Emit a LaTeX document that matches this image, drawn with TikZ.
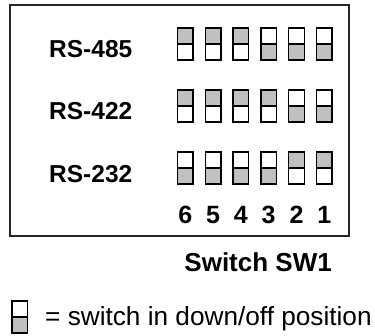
\documentclass[tikz,border=0pt]{standalone}
\usepackage{fontspec}
\setmainfont{Liberation Sans}
\usetikzlibrary{positioning}

\definecolor{swgray}{RGB}{192,192,192}
\tikzset{
  frame/.style={draw=black!85, line width=1.5pt},
  swline/.style={draw=black, line width=1.4pt},
  modelbl/.style={font=\fontsize{24.5}{28}\selectfont\bfseries, inner sep=0pt, anchor=base west},
  numlbl/.style={font=\fontsize{25}{28}\selectfont\bfseries, inner sep=0pt, anchor=base},
  titlelbl/.style={font=\fontsize{26}{30}\selectfont\bfseries, inner sep=0pt, anchor=base east},
  legendtxt/.style={font=\fontsize{26.2}{30}\selectfont, inner sep=0pt, anchor=base west}
}
% one dip switch: x left, y top, 1 = up (top half grey), 0 = down
\newcommand{\dipswitch}[3]{%
  \ifnum#3=1
    \fill[swgray] (#1,#2) rectangle ++(15.5,16);
  \else
    \fill[swgray] (#1,#2+16) rectangle ++(15.5,16);
  \fi
  \draw[swline] (#1,#2) rectangle ++(15.5,32);
  \draw[swline] (#1,#2+16) -- ++(15.5,0);
}

\begin{document}
\begin{tikzpicture}[x=1pt,y=-1pt]
  \useasboundingbox (0,0) rectangle (375,335);
  \draw[frame] (10,5) rectangle (349,236);

  % mode labels
  \node[modelbl] (rs485) at (49,57) {RS-485};
  \node[modelbl] (rs422) at (49,119) {RS-422};
  \node[modelbl] (rs232) at (49,182) {RS-232};

  % switch rows, switch 6 on the left
  \foreach \i/\s in {0/1,1/1,2/1,3/0,4/0,5/0}
    \dipswitch{177.5+27.8*\i}{28}{\s};
  \foreach \i/\s in {0/1,1/1,2/1,3/1,4/0,5/0}
    \dipswitch{177.5+27.8*\i}{90}{\s};
  \foreach \i/\s in {0/0,1/0,2/0,3/0,4/1,5/1}
    \dipswitch{177.5+27.8*\i}{152}{\s};

  % switch numbers
  \foreach \i/\n in {0/6,1/5,2/4,3/3,4/2,5/1}
    \node[numlbl] (num\n) at (185.25+27.8*\i,223) {\n};

  \node[titlelbl] (swname) at (332,271) {Switch SW1};

  % legend
  \dipswitch{12}{301}{0}
  \node[legendtxt] (legend) at (45,325) {= switch in down/off position};
\end{tikzpicture}
\end{document}
